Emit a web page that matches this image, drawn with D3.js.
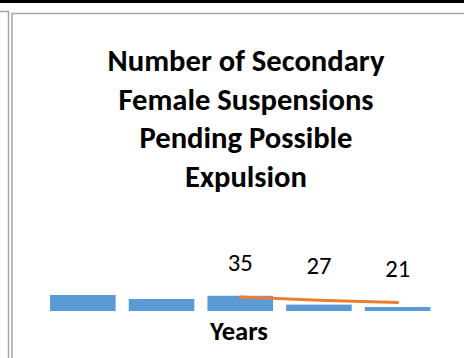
<!DOCTYPE html>
<html>
<head>
<meta charset="utf-8">
<script src="https://cdn.jsdelivr.net/npm/d3@7"></script>
<style>
  body { margin: 0; background: #fff; }
  svg { display: block; }
</style>
</head>
<body>
<svg width="464" height="358"></svg>
<script>
var years = ["2013", "2014", "2015", "2016", "2017"];
var barValues = [40, 30, 38, 16, 10];
var lineValues = [null, null, 35, 27, 21];
var titleLines = ["Number of Secondary", "Female Suspensions", "Pending Possible", "Expulsion"];

var svg = d3.select("svg");
var font = "Carlito, Calibri, 'Open Sans', sans-serif";

// font size that makes a string a given width
function fitSize(str, width, bold) {
    var t = svg.append("text")
        .style("font-family", font)
        .style("font-weight", bold ? "bold" : "normal")
        .style("font-size", "100px")
        .text(str);
    var s = 100 * width / t.node().getComputedTextLength();
    t.remove();
    return s;
}

// page frame
svg.append("rect").attr("x", 0).attr("y", 0).attr("width", 464).attr("height", 3).attr("fill", "#000");
svg.append("path").attr("d", "M0,11.5H8.5V358").attr("fill", "none").attr("stroke", "#a6a6a6").attr("stroke-width", 1.5);
svg.append("path").attr("d", "M12,358V13.5H464").attr("fill", "none").attr("stroke", "#a6a6a6").attr("stroke-width", 1.5);

var x = d3.scaleBand()
    .domain(years)
    .range([43.5, 437])
    .paddingInner(0.167)
    .paddingOuter(0.083);

var y = d3.scaleLinear()
    .domain([0, 100])
    .range([311, 271]);

svg.append("g")
    .selectAll("rect")
    .data(years)
    .enter().append("rect")
    .attr("x", function (d) { return x(d); })
    .attr("y", function (d, i) { return y(barValues[i]); })
    .attr("width", x.bandwidth())
    .attr("height", function (d, i) { return y(0) - y(barValues[i]); })
    .attr("fill", "#5b9bd5");

var pts = years.map(function (d, i) { return { year: d, v: lineValues[i] }; })
    .filter(function (d) { return d.v != null; });

var line = d3.line()
    .x(function (d) { return x(d.year) + x.bandwidth() / 2; })
    .y(function (d) { return y(d.v); });

svg.append("path")
    .datum(pts)
    .attr("d", line)
    .attr("fill", "none")
    .attr("stroke", "#ed7d31")
    .attr("stroke-width", 3)
    .attr("stroke-linecap", "round");

var labelSize = fitSize("35", 25, false);

svg.append("g")
    .selectAll("text")
    .data(pts)
    .enter().append("text")
    .attr("x", function (d) { return x(d.year) + x.bandwidth() / 2; })
    .attr("y", function (d) { return y(d.v) - 26; })
    .attr("text-anchor", "middle")
    .style("font-family", font)
    .style("font-size", labelSize + "px")
    .attr("fill", "#000")
    .text(function (d) { return d.v; });

// title, sized so the first line matches the reference width
var titleSize = fitSize(titleLines[0], 277, true);

svg.append("g")
    .style("font-family", font)
    .style("font-weight", "bold")
    .attr("fill", "#000")
    .selectAll("text")
    .data(titleLines)
    .enter().append("text")
    .attr("x", 246)
    .attr("y", function (d, i) { return 71 + i * 38.5; })
    .attr("text-anchor", "middle")
    .style("font-size", titleSize + "px")
    .text(function (d) { return d; });

svg.append("text")
    .attr("x", 239)
    .attr("y", 340)
    .attr("text-anchor", "middle")
    .style("font-family", font)
    .style("font-weight", "bold")
    .style("font-size", fitSize("Years", 58, true) + "px")
    .attr("fill", "#000")
    .text("Years");
</script>
</body>
</html>
